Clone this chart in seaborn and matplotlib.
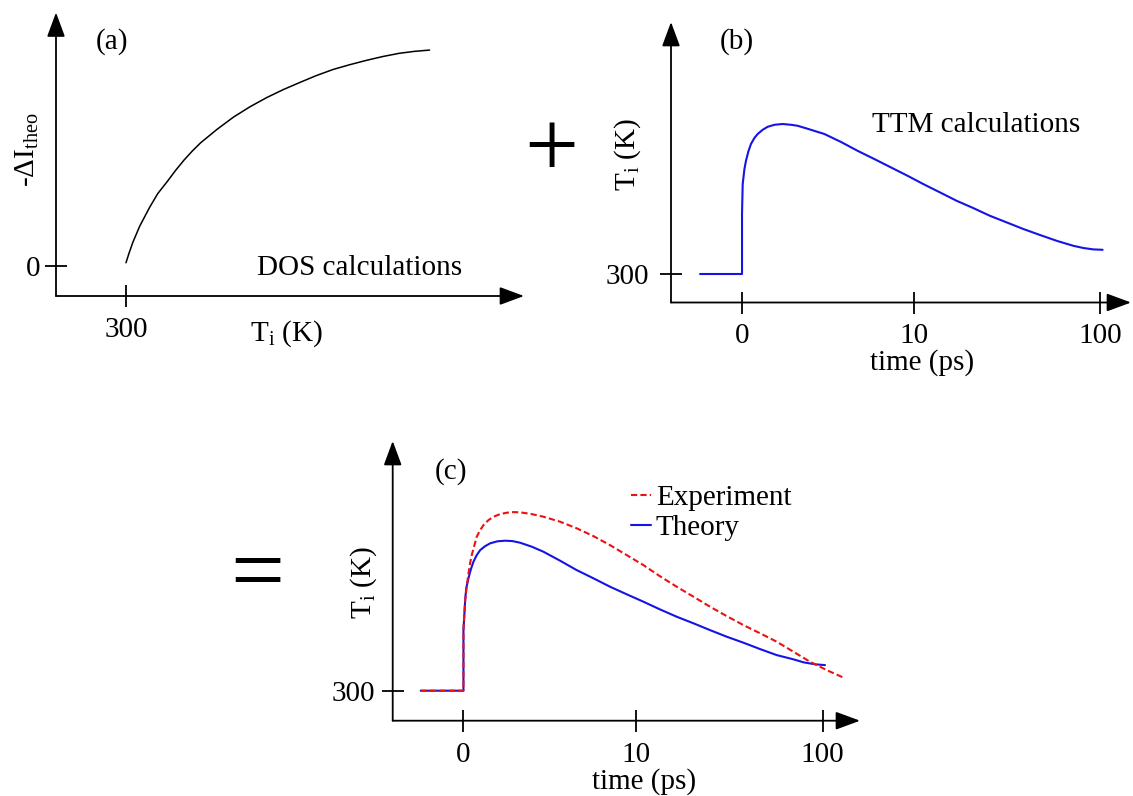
import matplotlib
matplotlib.use("Agg")
import matplotlib.pyplot as plt
import seaborn as sns

# ---------------- data ----------------
# Panel (a): DOS calculations, -dI_theo versus ion temperature (K)
dos_T = [300, 302, 305, 310, 317, 323, 330, 336, 342, 348, 354, 366, 378, 390,
         402, 414, 426, 438, 450, 462, 474, 486, 498, 509, 520]
dos_dI = [0.015, 0.055, 0.11, 0.185, 0.27, 0.335, 0.392, 0.443, 0.49, 0.532, 0.57,
          0.633, 0.69, 0.738, 0.78, 0.817, 0.85, 0.882, 0.91, 0.932, 0.952, 0.97,
          0.985, 0.994, 1.0]
dos_xticks = [300]
dos_xtick_labels = ["300"]
dos_yticks = [0]
dos_ytick_labels = ["0"]

# Panel (b): TTM calculations, T_i (K) versus time (ps)
ttm_t = [-2.44, 0, 0, 0.04, 0.14, 0.23, 0.37, 0.52, 0.72, 0.91, 1.20, 1.49, 1.88,
         2.36, 2.85, 3.24, 3.82, 4.79, 5.76, 6.72, 7.69, 8.66, 9.63, 11.2, 13.8,
         16.96, 20.8, 25.6, 31.5, 38.7, 47.6, 58.5, 71.9, 81.4, 92.1, 103.3]
ttm_T = [300, 300, 600, 750, 825, 866, 913, 950, 980, 1000, 1021, 1036, 1046,
         1050, 1046, 1041, 1026, 1000, 960, 916, 875, 833, 791, 750, 708,
         666, 630, 591, 558, 525, 495, 466, 441, 430, 423, 421]

# Panel (c): Theory and Experiment
theory_t = [-2.48, 0, 0, 0.10, 0.16, 0.29, 0.43, 0.58, 0.77, 0.97, 1.26, 1.55, 1.97,
            2.41, 2.84, 3.28, 3.96, 4.63, 5.60, 6.56, 7.53, 8.49, 9.46, 10.95, 13.4,
            16.5, 20.3, 24.9, 30.6, 37.6, 46.2, 56.7, 69.6, 78.8, 91.0, 102.9]
theory_T = [300, 300, 603, 753, 812, 862, 907, 945, 978, 1003, 1023, 1037, 1047,
            1050, 1048, 1040, 1020, 995, 950, 903, 862, 820, 782, 745, 707,
            670, 637, 603, 570, 540, 508, 478, 457, 442, 432, 428]
exp_t = [-2.48, 0, 0, 0.10, 0.20, 0.29, 0.39, 0.48, 0.62, 0.77, 0.97, 1.16, 1.45,
         1.74, 2.13, 2.51, 2.90, 3.28, 3.96, 4.63, 5.60, 6.56, 7.53, 8.49, 9.46,
         10.95, 13.4, 16.5, 20.3, 24.9, 30.6, 37.6, 46.2, 56.7, 69.6, 85.5, 105,
         131.6]
exp_T = [300, 300, 603, 753, 828, 887, 940, 978, 1023, 1070, 1103, 1128, 1153,
         1170, 1183, 1190, 1193, 1192, 1183, 1170, 1145, 1112, 1073, 1028, 978,
         928, 873, 820, 770, 720, 673, 628, 587, 545, 495, 445, 403,
         362]

time_ticks = [0, 10, 100]
time_tick_labels = ["0", "10", "100"]
temp_ticks = [300]
temp_tick_labels = ["300"]
legend_labels = ["Experiment", "Theory"]

# ---------------- style ----------------
sns.set_theme(style="white", rc={
    "text.color": "black", "axes.labelcolor": "black",
    "xtick.color": "black", "ytick.color": "black",
})
plt.rcParams["font.family"] = ["Liberation Serif", "DejaVu Serif"]
plt.rcParams["mathtext.fontset"] = "custom"
plt.rcParams["mathtext.rm"] = "Liberation Serif"
plt.rcParams["mathtext.it"] = "Liberation Serif:italic"
plt.rcParams["mathtext.bf"] = "Liberation Serif:bold"

W, H = 1133, 796
fig = plt.figure(figsize=(W / 100, H / 100), dpi=100)
fig.patch.set_facecolor("white")


def fx(x):
    return x / W


def fy(y):
    return 1 - y / H


def make_axes(left, top, right, bottom):
    return fig.add_axes([fx(left), fy(bottom), (right - left) / W, (bottom - top) / H])


FS = 21
LW = 1.3
BLUE = "#1414e6"
RED = "#ee1111"


def style_axes(ax, xpad, ypad):
    for s in ax.spines.values():
        s.set_visible(False)
    ax.set_facecolor("none")
    ax.grid(False)
    ax.tick_params(axis="both", which="major", direction="inout", length=16,
                   width=LW, color="black", labelsize=FS, labelcolor="black",
                   top=False, right=False, bottom=True, left=True)
    ax.tick_params(axis="both", which="minor", length=0)
    ax.tick_params(axis="x", pad=xpad)
    ax.tick_params(axis="y", pad=ypad)
    arrow = dict(arrowstyle="-|>,head_length=1.0,head_width=0.37", lw=LW,
                 color="black", shrinkA=0, shrinkB=0, mutation_scale=15)
    ax.annotate("", xy=(1, 0), xytext=(0, 0), xycoords="axes fraction",
                textcoords="axes fraction", arrowprops=arrow, annotation_clip=False)
    ax.annotate("", xy=(0, 1), xytext=(0, 0), xycoords="axes fraction",
                textcoords="axes fraction", arrowprops=arrow, annotation_clip=False)
    ax.set_xlabel("")
    ax.set_ylabel("")


# ---------------- panel (a) ----------------
axa = make_axes(56, 12.5, 524, 296)
sns.lineplot(x=dos_T, y=dos_dI, ax=axa, color="black", lw=1.1,
             estimator=None, sort=False, legend=False)
axa.set_xlim(249.3, 588.4)
axa.set_ylim(-0.139, 1.174)
axa.set_xticks(dos_xticks)
axa.set_xticklabels(dos_xtick_labels)
axa.set_yticks(dos_yticks)
axa.set_yticklabels(dos_ytick_labels)
style_axes(axa, xpad=7, ypad=3.5)

fig.text(fx(112), fy(42), "(a)", fontsize=FS, ha="center", va="center")
fig.text(fx(27), fy(150), "-ΔI$_{\\mathrm{theo}}$", fontsize=FS, rotation=90,
         ha="center", va="center")
fig.text(fx(250), fy(341), "T$_{\\mathrm{i}}$ (K)", fontsize=FS, ha="left", va="baseline")
fig.text(fx(257), fy(275), "DOS calculations", fontsize=FS, ha="left", va="baseline")

# plus sign
fig.text(fx(551), fy(176), "+", fontsize=69, ha="center", va="baseline")

# ---------------- panel (b) ----------------
axb = make_axes(671, 22, 1131, 302.5)
sns.lineplot(x=ttm_t, y=ttm_T, ax=axb, color=BLUE, lw=1.5,
             estimator=None, sort=False, legend=False)
axb.set_xscale("symlog", linthresh=10, linscale=0.832)
axb.set_xlim(-4.13, 146.8)
axb.set_ylim(157.5, 1560)
axb.set_xticks(time_ticks)
axb.set_xticklabels(time_tick_labels)
axb.xaxis.set_minor_locator(matplotlib.ticker.NullLocator())
axb.set_yticks(temp_ticks)
axb.set_yticklabels(temp_tick_labels)
style_axes(axb, xpad=7, ypad=8)

fig.text(fx(737), fy(42), "(b)", fontsize=FS, ha="center", va="center")
fig.text(fx(628), fy(155), "T$_{\\mathrm{i}}$ (K)", fontsize=FS, rotation=90,
         ha="center", va="center")
fig.text(fx(871.7), fy(132.3), "TTM calculations", fontsize=FS, ha="left", va="baseline")
fig.text(fx(922), fy(370), "time (ps)", fontsize=FS, ha="center", va="baseline")

# equals sign
fig.text(fx(257), fy(602), "=", fontsize=69, ha="center", va="baseline")

# ---------------- panel (c) ----------------
axc = make_axes(392.7, 441, 860, 720.7)
sns.lineplot(x=theory_t, y=theory_T, ax=axc, color=BLUE, lw=1.5,
             estimator=None, sort=False, legend=False)
sns.lineplot(x=exp_t, y=exp_T, ax=axc, color=RED, lw=1.5,
             estimator=None, sort=False, legend=False)
theory_line, exp_line = axc.get_lines()[0], axc.get_lines()[1]
exp_line.set_linestyle((0, (3, 1.5)))
axc.set_xscale("symlog", linthresh=10, linscale=0.832)
axc.set_xlim(-4.10, 158.4)
axc.set_ylim(150, 1548.5)
axc.set_xticks(time_ticks)
axc.set_xticklabels(time_tick_labels)
axc.xaxis.set_minor_locator(matplotlib.ticker.NullLocator())
axc.set_yticks(temp_ticks)
axc.set_yticklabels(temp_tick_labels)
style_axes(axc, xpad=7, ypad=4.5)

axc.legend(handles=[exp_line, theory_line], labels=legend_labels,
           loc="upper left", bbox_to_anchor=(fx(631), fy(485)),
           bbox_transform=fig.transFigure, frameon=False, fontsize=FS,
           borderpad=0, borderaxespad=0, handlelength=0.68,
           handletextpad=0.17, labelspacing=0.1)

fig.text(fx(451), fy(472), "(c)", fontsize=FS, ha="center", va="center")
fig.text(fx(364), fy(583), "T$_{\\mathrm{i}}$ (K)", fontsize=FS, rotation=90,
         ha="center", va="center")
fig.text(fx(644), fy(789), "time (ps)", fontsize=FS, ha="center", va="baseline")

fig.savefig("out.png", dpi=100)
